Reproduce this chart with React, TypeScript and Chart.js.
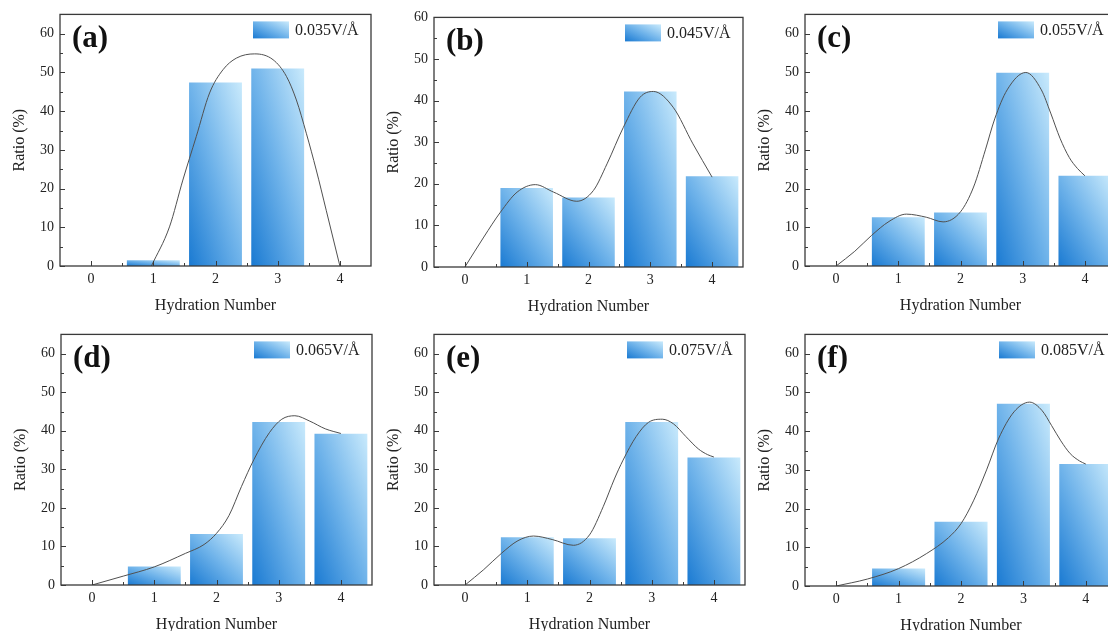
import React, { useEffect, useRef } from 'react';
import { Chart, registerables } from 'chart.js';

Chart.register(...registerables);

// ---------- data ----------
const categories = ['0', '1', '2', '3', '4'];

const valuesA = [0, 1.5, 47.4, 51.0, 0];
const valuesB = [0, 19.0, 16.7, 42.2, 21.8];
const valuesC = [0, 12.6, 13.8, 49.9, 23.3];
const valuesD = [0, 4.8, 13.2, 42.3, 39.2];
const valuesE = [0, 12.4, 12.1, 42.3, 33.1];
const valuesF = [0, 4.5, 16.6, 47.1, 31.5];

// smooth fitted curves
const curveAX = [0.97, 1.26, 1.475, 1.69, 1.905, 2.12, 2.335, 2.63, 2.925, 3.14, 3.3, 3.46, 3.62, 3.78, 4.0];
const curveAY = [0, 10.1, 22.2, 33.4, 44.7, 50.7, 53.7, 54.8, 53.3, 49, 42.9, 34.3, 24.8, 14.4, 0];
const curveBX = [0, 0.306, 0.576, 0.845, 1.14, 1.435, 1.81, 2.08, 2.3, 2.565, 2.834, 3.05, 3.37, 3.69, 4.0];
const curveBY = [0, 7.2, 13.2, 18, 19.8, 18, 15.8, 18.4, 24.8, 33.6, 40.8, 42.2, 38.4, 29.6, 21.6];
const curveCX = [0, 0.3, 0.57, 0.85, 1.13, 1.45, 1.72, 2.0, 2.21, 2.4, 2.55, 2.75, 3.05, 3.3, 3.45, 3.6, 3.75, 3.88, 4.0];
const curveCY = [0, 3.8, 7.9, 11.5, 13.4, 12.6, 11.4, 14, 20.4, 30, 38, 45.5, 50, 45.5, 39.5, 33, 28, 25.2, 23.3];
const curveDX = [0, 0.5, 1, 1.5, 1.8, 2, 2.2, 2.4, 2.6, 2.85, 3.05, 3.26, 3.5, 3.75, 4.0];
const curveDY = [0, 2.3, 4.7, 8.2, 10.5, 13.4, 18, 25.5, 32.5, 39.5, 43, 43.9, 42.5, 40.5, 39.3];
const curveEX = [0, 0.3, 0.59, 0.85, 1.1, 1.4, 1.74, 2.0, 2.22, 2.4, 2.54, 2.75, 2.95, 3.17, 3.35, 3.55, 3.75, 3.9, 4.0];
const curveEY = [0, 4, 8.3, 11.5, 12.7, 11.8, 10.3, 13, 20.3, 27.5, 32.4, 38.5, 42.2, 43, 41.8, 38.5, 35.3, 33.8, 33.2];
const curveFX = [0, 0.5, 1, 1.45, 1.8, 2.0, 2.2, 2.41, 2.6, 2.85, 3.1, 3.3, 3.45, 3.6, 3.75, 3.9, 4.0];
const curveFY = [0, 1.8, 4.5, 8.4, 12.5, 16.1, 22, 30, 38, 45, 47.5, 45.3, 41.5, 37.5, 34.2, 32.3, 31.5];

const legendLabels = ['0.035V/Å', '0.045V/Å', '0.055V/Å', '0.065V/Å', '0.075V/Å', '0.085V/Å'];
const panelLabels = ['(a)', '(b)', '(c)', '(d)', '(e)', '(f)'];
const yMaxes = [65, 60, 65, 65, 65, 65];
const xTitle = 'Hydration Number';
const yTitle = 'Ratio (%)';

const seriesValues = [valuesA, valuesB, valuesC, valuesD, valuesE, valuesF];
const curveXs = [curveAX, curveBX, curveCX, curveDX, curveEX, curveFX];
const curveYs = [curveAY, curveBY, curveCY, curveDY, curveEY, curveFY];

// ---------- layout (plot-area boxes in page pixels) ----------
const areas = [
  { L: 60, T: 14, R: 371, B: 266 },
  { L: 434, T: 17, R: 743, B: 267 },
  { L: 805, T: 14, R: 1116, B: 266 },
  { L: 61, T: 334, R: 372, B: 585 },
  { L: 434, T: 334, R: 745, B: 585 },
  { L: 805, T: 334, R: 1117, B: 586 },
];
const Y_W = 60;
const X_H = 51;
const PAD_T = 14;
const PAD_R = 10;
const BAR_FRAC = 0.85;
const FONT = "'Liberation Serif', 'Times New Roman', serif";
const DARK = '#1a7ad2';
const MID = '#6fb3ea';
const LIGHT = '#c9eafc';

function diagGrad(ctx: CanvasRenderingContext2D, x: number, y: number, w: number, h: number) {
  const hh = Math.max(h, 0.5);
  const ww = Math.max(w, 0.5);
  const x0 = x;
  const y0 = y + hh;
  const k = (2 * ww * hh) / (hh * hh + ww * ww);
  const g = ctx.createLinearGradient(x0, y0, x0 + k * hh, y0 - k * ww);
  g.addColorStop(0, DARK);
  g.addColorStop(0.5, MID);
  g.addColorStop(1, LIGHT);
  return g;
}

const framePlugin = {
  id: 'frameDeco',
  afterDatasetsDraw(chart: any) {
    const { ctx, chartArea: a, scales } = chart;
    const o = chart.options.plugins.frameDeco;
    ctx.save();
    ctx.strokeStyle = '#3a3a3a';
    ctx.lineWidth = 1.3;
    ctx.strokeRect(a.left, a.top, a.right - a.left, a.bottom - a.top);
    ctx.lineWidth = 1;
    const ys = scales.y;
    for (let v = 0; v < ys.max + 0.01; v += 5) {
      const py = Math.round(ys.getPixelForValue(v)) + 0.5;
      const len = v % 10 === 0 ? 5 : 3;
      ctx.beginPath();
      ctx.moveTo(a.left, py);
      ctx.lineTo(a.left + len, py);
      ctx.stroke();
    }
    const xs = scales.x;
    for (let i = 0; i < categories.length; i++) {
      const px = Math.round(xs.getPixelForValue(i)) + 0.5;
      ctx.beginPath();
      ctx.moveTo(px, a.bottom);
      ctx.lineTo(px, a.bottom - 5);
      ctx.stroke();
      if (i < categories.length - 1) {
        const pm = Math.round((xs.getPixelForValue(i) + xs.getPixelForValue(i + 1)) / 2) + 0.5;
        ctx.beginPath();
        ctx.moveTo(pm, a.bottom);
        ctx.lineTo(pm, a.bottom - 3);
        ctx.stroke();
      }
    }
    // panel label
    ctx.fillStyle = '#111';
    ctx.font = `bold 31px ${FONT}`;
    ctx.textBaseline = 'alphabetic';
    ctx.textAlign = 'left';
    ctx.fillText(o.label, a.left + 12, a.top + 33);
    // legend
    const bx = a.right - 118;
    const by = a.top + 7;
    ctx.fillStyle = diagGrad(ctx, bx, by, 36, 17);
    ctx.fillRect(bx, by, 36, 17);
    ctx.fillStyle = '#222';
    ctx.font = `16px ${FONT}`;
    ctx.textBaseline = 'middle';
    ctx.fillText(o.legend, bx + 42, by + 9);
    ctx.restore();
  },
};

function Panel({ idx }: { idx: number }) {
  const ref = useRef<HTMLCanvasElement>(null);
  const ar = areas[idx];
  const cw = ar.R - ar.L + Y_W + PAD_R;
  const ch = ar.B - ar.T + PAD_T + X_H;
  useEffect(() => {
    if (!ref.current) return;
    const values = seriesValues[idx];
    const cx = curveXs[idx];
    const cy = curveYs[idx];
    const curve = cx.map((x, i) => ({ x, y: cy[i] }));
    const chart = new Chart(ref.current, {
      type: 'bar',
      data: {
        labels: categories,
        datasets: [
          {
            type: 'line',
            label: 'fit',
            data: curve as any,
            xAxisID: 'xc',
            yAxisID: 'y',
            borderColor: '#505050',
            borderWidth: 1,
            pointRadius: 0,
            fill: false,
            cubicInterpolationMode: 'monotone',
            order: 0,
          } as any,
          {
            type: 'bar',
            label: legendLabels[idx],
            data: values,
            xAxisID: 'x',
            yAxisID: 'y',
            grouped: false,
            categoryPercentage: BAR_FRAC,
            barPercentage: 1,
            order: 1,
            backgroundColor: (c: any) => {
              const chartI = c.chart;
              const xs = chartI.scales && chartI.scales.x;
              const ys = chartI.scales && chartI.scales.y;
              if (c.type !== 'data' || !xs || !ys || !chartI.chartArea) return MID;
              const i = c.dataIndex;
              const v = c.raw as number;
              const step = xs.getPixelForValue(1) - xs.getPixelForValue(0);
              const w = step * BAR_FRAC;
              const left = xs.getPixelForValue(i) - w / 2;
              const top = ys.getPixelForValue(v);
              const bottom = ys.getPixelForValue(0);
              return diagGrad(chartI.ctx, left, top, w, bottom - top);
            },
          } as any,
        ],
      },
      options: {
        responsive: false,
        animation: false,
        devicePixelRatio: 1,
        layout: { padding: { top: PAD_T, right: PAD_R, left: 0, bottom: 0 } },
        plugins: {
          legend: { display: false },
          tooltip: { enabled: false },
          frameDeco: { label: panelLabels[idx], legend: legendLabels[idx] },
        } as any,
        scales: {
          x: {
            type: 'category',
            offset: true,
            grid: { display: false, drawTicks: false },
            border: { display: false },
            ticks: { font: { family: FONT, size: 14 }, color: '#222', padding: 5 },
            title: {
              display: true,
              text: xTitle,
              font: { family: FONT, size: 16 },
              color: '#222',
              padding: { top: 0, bottom: 2 },
            },
            afterFit: (s: any) => {
              s.height = X_H;
            },
          },
          xc: {
            type: 'linear',
            display: false,
            offset: false,
            bounds: 'data',
            min: -0.5,
            max: 4.5,
          },
          y: {
            type: 'linear',
            min: 0,
            max: yMaxes[idx],
            grid: { display: false, drawTicks: false },
            border: { display: false },
            ticks: { stepSize: 10, font: { family: FONT, size: 14 }, color: '#222', padding: 6 },
            title: {
              display: true,
              text: yTitle,
              font: { family: FONT, size: 16 },
              color: '#222',
              padding: { top: 10, bottom: 0 },
            },
            afterBuildTicks: (s: any) => {
              s.ticks = s.ticks.filter((t: any) => Math.abs(t.value % 10) < 1e-6);
            },
            afterFit: (s: any) => {
              s.width = Y_W;
            },
          },
        },
      } as any,
      plugins: [framePlugin as any],
    });
    return () => chart.destroy();
  }, [idx]);
  return (
    <canvas
      ref={ref}
      width={cw}
      height={ch}
      style={{ position: 'absolute', left: ar.L - Y_W, top: ar.T - PAD_T, width: cw, height: ch }}
    />
  );
}

export default function App() {
  return (
    <div
      style={{
        position: 'fixed',
        left: 0,
        top: 0,
        width: 1108,
        height: 631,
        overflow: 'hidden',
        background: '#ffffff',
      }}
    >
      {areas.map((_, i) => (
        <Panel key={i} idx={i} />
      ))}
    </div>
  );
}
